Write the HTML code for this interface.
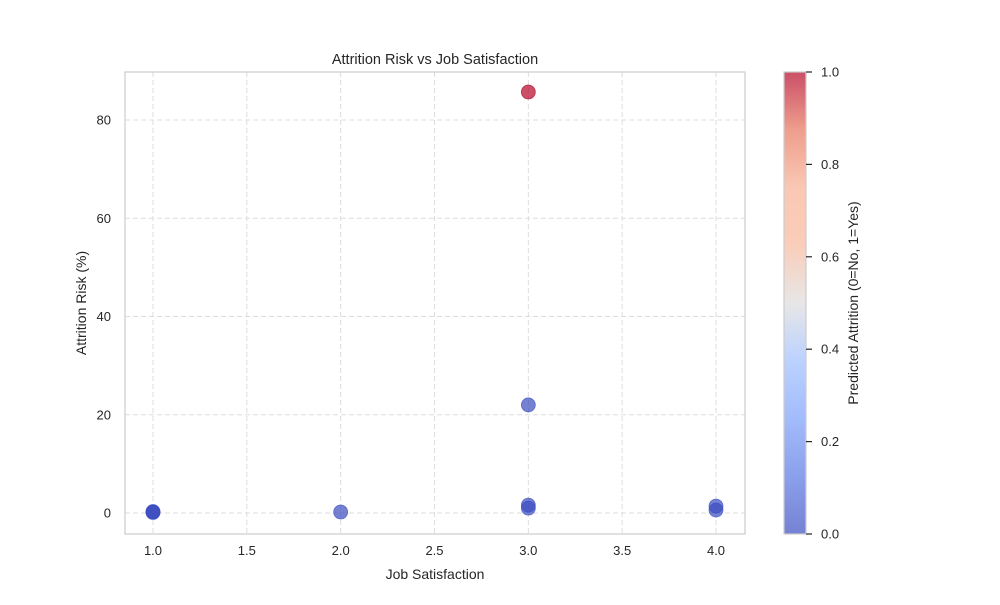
<!DOCTYPE html>
<html><head><meta charset="utf-8">
<style>
html,body{margin:0;padding:0;background:#fff;}
svg text{font-family:"Liberation Sans",Arial,sans-serif;fill:#262626;}
</style></head>
<body>
<svg id="chart" width="1000" height="600" xmlns="http://www.w3.org/2000/svg">
<defs>
<linearGradient id="cw" x1="0" y1="1" x2="0" y2="0">
<stop offset="0" stop-color="#3b4cc0"/>
<stop offset="0.125" stop-color="#5977e3"/>
<stop offset="0.25" stop-color="#7b9ff9"/>
<stop offset="0.375" stop-color="#9ebeff"/>
<stop offset="0.5" stop-color="#dddcdc"/>
<stop offset="0.625" stop-color="#f7b89c"/>
<stop offset="0.75" stop-color="#f7b093"/>
<stop offset="0.875" stop-color="#e7745b"/>
<stop offset="1" stop-color="#b40426"/>
</linearGradient>
</defs>
<g id="grid"></g>
<g id="points"></g>
<rect x="125" y="72" width="620" height="462" fill="none" stroke="#cccccc" stroke-width="1.2"/>
<g id="xticks"></g>
<g id="yticks"></g>
<text x="435" y="64" text-anchor="middle" font-size="14.5">Attrition Risk vs Job Satisfaction</text>
<text x="435" y="579" text-anchor="middle" font-size="14">Job Satisfaction</text>
<text transform="translate(86,303) rotate(-90)" text-anchor="middle" font-size="14">Attrition Risk (%)</text>
<rect x="784" y="72" width="22" height="462" fill="url(#cw)" opacity="0.7"/>
<rect x="784" y="72" width="22" height="462" fill="none" stroke="#cccccc" stroke-width="1.2"/>
<g id="cticks"></g>
<text transform="translate(858,303) rotate(-90)" text-anchor="middle" font-size="14">Predicted Attrition (0=No, 1=Yes)</text>
</svg>
<script>
const xVals = [1, 1, 1, 2, 3, 3, 3, 3, 4, 4];
const yVals = [0.2, 0.3, 0.1, 0.2, 85.7, 22.0, 1.6, 1.0, 1.4, 0.6];
const predVals = [0, 0, 0, 0, 1, 0, 0, 0, 0, 0];
const xTicks = [1.0, 1.5, 2.0, 2.5, 3.0, 3.5, 4.0];
const yTicks = [0, 20, 40, 60, 80];
const cTicks = [0.0, 0.2, 0.4, 0.6, 0.8, 1.0];

const NS = "http://www.w3.org/2000/svg";
const X = v => 153 + (v - 1) * 187.67;
const Y = v => 513 - v * 4.9125;
const C = v => 534 - v * 462;
function mk(tag, attrs, parent, txt){
  const e = document.createElementNS(NS, tag);
  for (const k in attrs) e.setAttribute(k, attrs[k]);
  if (txt !== undefined) e.textContent = txt;
  document.getElementById(parent).appendChild(e);
  return e;
}
xTicks.forEach(t => {
  const g = mk('line', {x1:X(t), x2:X(t), y1:72, y2:534, stroke:'#dddddd', 'stroke-dasharray':'5,3', 'stroke-width':1}, 'grid');
  
  
  const l = mk('text', {x:X(t), y:555, 'text-anchor':'middle', 'font-size':13}, 'xticks', t.toFixed(1));
  
  
});
yTicks.forEach(t => {
  const g = mk('line', {x1:125, x2:745, y1:Y(t), y2:Y(t), stroke:'#dddddd', 'stroke-dasharray':'5,3', 'stroke-width':1}, 'grid');
  
  
  const l = mk('text', {x:111, y:Y(t)+4.5, 'text-anchor':'end', 'font-size':13}, 'yticks', String(t));
  
  
});
cTicks.forEach(t => {
  const k = mk('line', {x1:806, x2:812, y1:C(t), y2:C(t), stroke:'#262626', 'stroke-width':1.2}, 'cticks');
  
  
  const l = mk('text', {x:821, y:C(t)+4.5, 'font-size':13}, 'cticks', t.toFixed(1));
  
  
});
xVals.forEach((xv, i) => {
  const c = mk('circle', {cx:X(xv), cy:Y(yVals[i]), r:7, fill: predVals[i] ? '#b40426' : '#3b4cc0', 'fill-opacity':0.7, stroke: predVals[i] ? '#b40426' : '#3b4cc0', 'stroke-opacity':0.7, 'stroke-width':0.8}, 'points');
  
  
});
</script>
</body></html>
